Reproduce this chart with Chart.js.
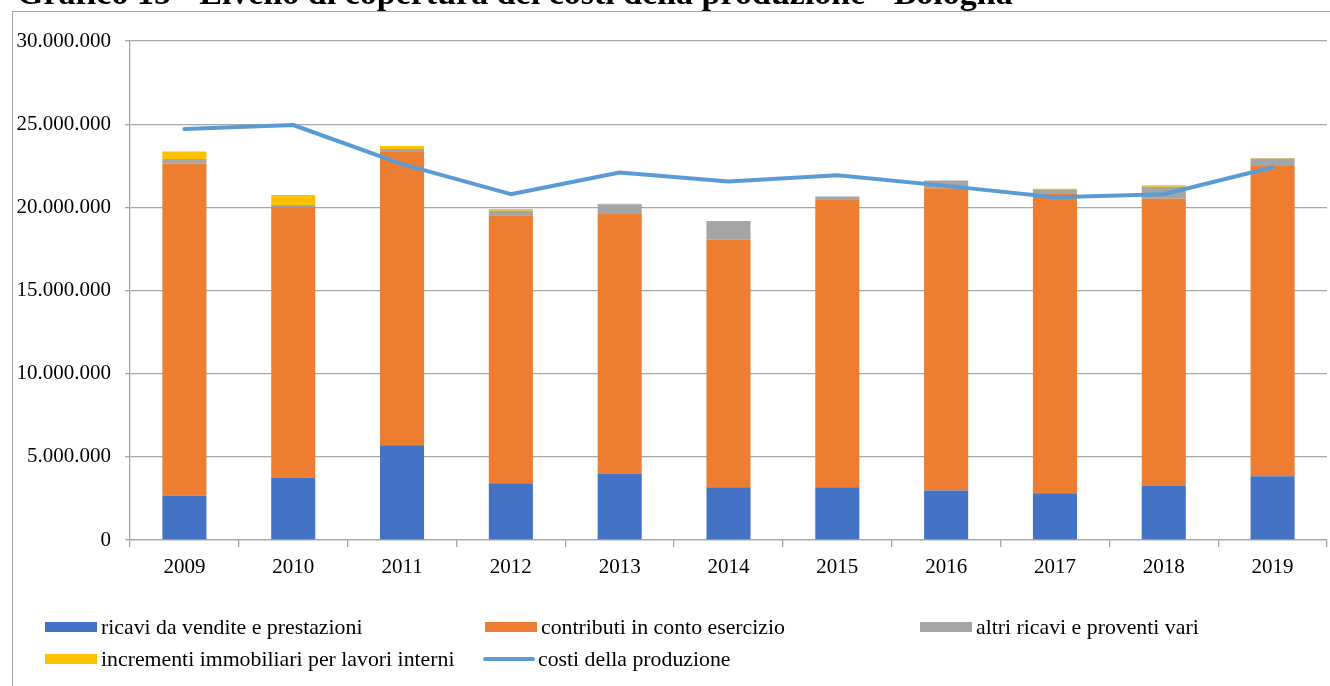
<!DOCTYPE html>
<html lang="it">
<head>
<meta charset="utf-8">
<title>Grafico 15 - Livello di copertura dei costi della produzione - Bologna</title>
<script src="https://cdn.jsdelivr.net/npm/chart.js@4.4.1/dist/chart.umd.min.js"></script>
<style>
  html, body { margin: 0; padding: 0; background: #fff; overflow: hidden; }
  #wrap { position: relative; width: 1330px; height: 686px; }
  #frame {
    position: absolute; left: 12px; top: 11px; width: 1340px; height: 700px;
    border: 1px solid #a6a6a6; box-sizing: border-box;
  }
  #title {
    position: absolute; left: 17px; top: -24px; white-space: nowrap;
    font: bold 34px/34px "Liberation Serif", "Times New Roman", serif; color: #000;
  }
  #chart { position: absolute; left: 0; top: 0; }
  #legend { position: absolute; left: 0; top: 0; width: 1330px; height: 686px; pointer-events: none; }
  .item {
    position: absolute; display: flex; align-items: center; white-space: nowrap;
    font: 21.8px "Liberation Serif", "Times New Roman", serif; color: #000;
  }
  .swatch { width: 52px; height: 10px; margin-right: 4px; }
  .swatch.line { height: 4px; border-radius: 2px; margin-right: 3px; }
</style>
</head>
<body>
<div id="wrap">
  <div id="frame"></div>
  <canvas id="chart" width="1330" height="686"></canvas>
  <div id="legend"></div>
  <div id="title">Grafico 15 - Livello di copertura dei costi della produzione - Bologna</div>
</div>
<script>
// Anni e valori (euro)
const anni = ['2009', '2010', '2011', '2012', '2013', '2014', '2015', '2016', '2017', '2018', '2019'];
const ricaviVendite = [2660000, 3750000, 5690000, 3410000, 3990000, 3170000, 3170000, 2970000, 2810000, 3270000, 3830000];
const contributiEsercizio = [19970000, 16270000, 17640000, 16110000, 15610000, 14890000, 17320000, 18180000, 18040000, 17250000, 18660000];
const altriRicavi = [280000, 120000, 180000, 280000, 590000, 1120000, 160000, 460000, 240000, 720000, 440000];
const incrementiImmobiliari = [440000, 600000, 180000, 100000, 30000, 0, 0, 0, 20000, 90000, 40000];
const costiProduzione = [24710000, 24950000, 22600000, 20790000, 22090000, 21550000, 21930000, 21290000, 20610000, 20790000, 22410000];
const tickValori = [0, 5000000, 10000000, 15000000, 20000000, 25000000, 30000000];

const serie = [
  { label: 'ricavi da vendite e prestazioni', data: ricaviVendite, color: '#4472c4' },
  { label: 'contributi in conto esercizio', data: contributiEsercizio, color: '#ed7d31' },
  { label: 'altri ricavi e proventi vari', data: altriRicavi, color: '#a5a5a5' },
  { label: 'incrementi immobiliari per lavori interni', data: incrementiImmobiliari, color: '#ffc000' }
];

// separatore delle migliaia con il punto
function formatta(v) {
  return String(Math.round(v)).replace(/\B(?=(\d{3})+(?!\d))/g, '.');
}

const gridColor = '#a6a6a6';
const serif = '"Liberation Serif", "Times New Roman", serif';

const datasets = serie.map(s => ({
  type: 'bar',
  label: s.label,
  data: s.data,
  backgroundColor: s.color,
  borderWidth: 0,
  stack: 'ricavi',
  order: 1,
  categoryPercentage: 1,
  barPercentage: 0.405
}));
datasets.push({
  type: 'line',
  label: 'costi della produzione',
  data: costiProduzione,
  borderColor: '#5b9bd5',
  backgroundColor: '#5b9bd5',
  borderWidth: 4,
  pointRadius: 0,
  tension: 0,
  order: 0,
  borderCapStyle: 'round',
  borderJoinStyle: 'round'
});

// legenda su due righe e tre colonne, costruita dai dataset del grafico
const legendaPos = [
  { x: 45, y: 627 }, { x: 485, y: 627 }, { x: 920, y: 627 },
  { x: 45, y: 659 }, { x: 483, y: 659 }
];
const legendaHtml = {
  id: 'legendaHtml',
  afterUpdate(chart) {
    const box = document.getElementById('legend');
    box.innerHTML = '';
    chart.data.datasets.forEach((ds, i) => {
      const p = legendaPos[i];
      const item = document.createElement('div');
      item.className = 'item';
      item.style.left = p.x + 'px';
      item.style.top = (p.y - 14) + 'px';
      item.style.height = '28px';
      const sw = document.createElement('span');
      sw.className = 'swatch' + (ds.type === 'line' ? ' line' : '');
      sw.style.background = ds.type === 'line' ? ds.borderColor : ds.backgroundColor;
      const txt = document.createElement('span');
      txt.textContent = ds.label;
      item.appendChild(sw);
      item.appendChild(txt);
      box.appendChild(item);
    });
  }
};

new Chart(document.getElementById('chart'), {
  data: { labels: anni, datasets },
  options: {
    responsive: false,
    animation: false,
    layout: { padding: { left: 0, right: 3, top: 41, bottom: 0 } },
    plugins: {
      legend: { display: false },
      tooltip: { enabled: false },
      title: { display: false }
    },
    scales: {
      x: {
        stacked: true,
        offset: true,
        grid: {
          offset: true,
          drawOnChartArea: false,
          drawTicks: true,
          tickLength: 7,
          color: gridColor,
          lineWidth: 1.3
        },
        border: { display: true, color: gridColor, width: 1.3 },
        ticks: {
          color: '#000',
          font: { family: serif, size: 21 },
          padding: 8,
          maxRotation: 0
        },
        afterFit(scale) { scale.height = 146; }
      },
      y: {
        stacked: true,
        min: 0,
        max: 30000000,
        afterBuildTicks(scale) { scale.ticks = tickValori.map(v => ({ value: v })); },
        grid: {
          color: gridColor,
          lineWidth: 1.3,
          tickLength: 5,
          drawTicks: true
        },
        border: { display: true, color: gridColor, width: 1.3 },
        ticks: {
          color: '#000',
          font: { family: serif, size: 21 },
          padding: 14,
          callback: v => formatta(v)
        },
        afterFit(scale) { scale.width = 130; }
      }
    }
  },
  plugins: [legendaHtml]
});
</script>
</body>
</html>
